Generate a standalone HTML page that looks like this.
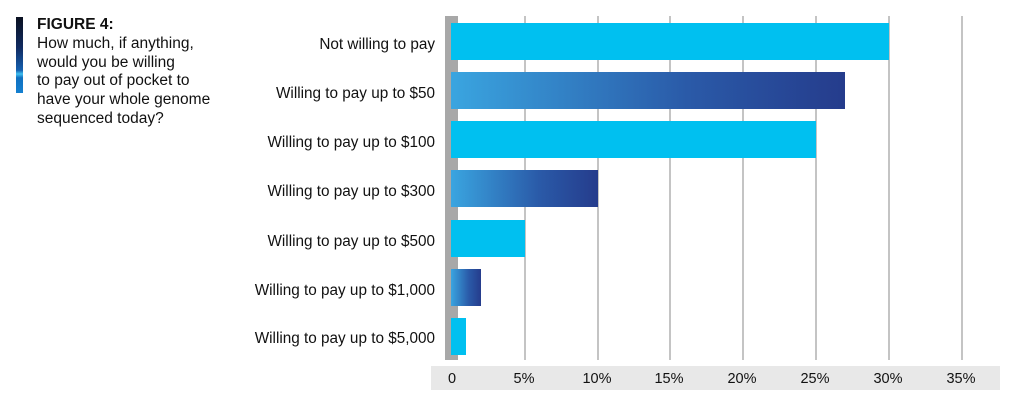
<!DOCTYPE html>
<html><head><style>
body{margin:0;width:1011px;height:400px;background:#fff;font-family:"Liberation Sans",sans-serif;position:relative;overflow:hidden}
.a{position:absolute}
.lbl{position:absolute;right:576px;font-size:15.3px;color:#111;text-align:right;white-space:nowrap}
.bar{position:absolute;left:451px;height:37px}
.c{background:#00c0f0}
.g{background:linear-gradient(90deg,#3aa5e0,#2a5aa8 60%,#253c8c)}
.grid{position:absolute;top:16px;height:344px;width:2px;background:#c4c4c4}
.tk{position:absolute;top:371px;font-size:14.5px;color:#111;transform:translateX(-50%)}
</style></head><body>
<div class="a" style="left:16px;top:17px;width:7px;height:76px;background:linear-gradient(#0a1020,#102a60 40%,#1560b0 70%,#40c0f0 75%,#1070c0 80%,#1580d0)"></div>
<div class="a" style="left:37px;top:16px;font-size:15.5px;line-height:18.8px;color:#111"><b>FIGURE 4:</b><br>How much, if anything,<br>would you be willing<br>to pay out of pocket to<br>have your whole genome<br>sequenced today?</div>
<div class="grid" style="left:524px"></div><div class="grid" style="left:597px"></div><div class="grid" style="left:669px"></div><div class="grid" style="left:742px"></div><div class="grid" style="left:815px"></div><div class="grid" style="left:888px"></div><div class="grid" style="left:961px"></div>
<div class="a" style="left:445px;top:16px;width:13px;height:344px;background:#a8a8a8"></div>
<div class="a" style="left:431px;top:366px;width:569px;height:24px;background:#e8e8e8"></div>
<div class="tk" style="left:452px">0</div><div class="tk" style="left:524px">5%</div><div class="tk" style="left:597px">10%</div><div class="tk" style="left:669px">15%</div><div class="tk" style="left:742px">20%</div><div class="tk" style="left:815px">25%</div><div class="tk" style="left:888px">30%</div><div class="tk" style="left:961px">35%</div>
<div class="bar c" style="top:23px;width:438px"></div>
<div class="bar g" style="top:72px;width:394px"></div>
<div class="bar c" style="top:121px;width:365px"></div>
<div class="bar g" style="top:170px;width:147px"></div>
<div class="bar c" style="top:220px;width:74px"></div>
<div class="bar g" style="top:269px;width:30px"></div>
<div class="bar c" style="top:318px;width:15px"></div>
<div class="lbl" style="top:36px">Not willing to pay</div>
<div class="lbl" style="top:85px">Willing to pay up to $50</div>
<div class="lbl" style="top:134px">Willing to pay up to $100</div>
<div class="lbl" style="top:183px">Willing to pay up to $300</div>
<div class="lbl" style="top:233px">Willing to pay up to $500</div>
<div class="lbl" style="top:282px">Willing to pay up to $1,000</div>
<div class="lbl" style="top:330px">Willing to pay up to $5,000</div>
</body></html>
